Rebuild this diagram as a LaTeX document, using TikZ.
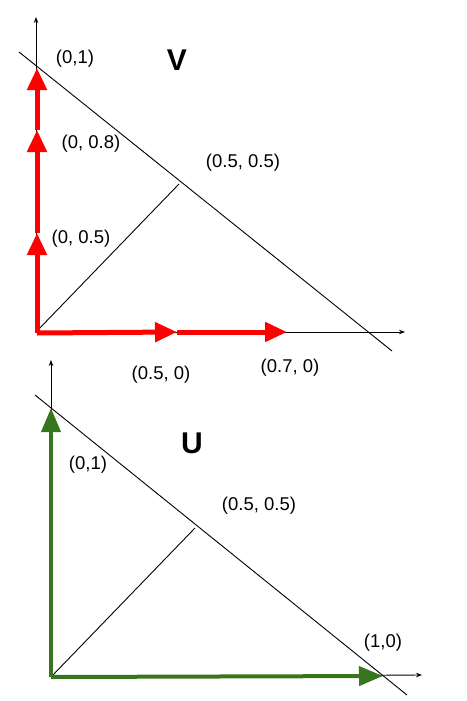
\documentclass[tikz,border=0pt]{standalone}
\usepackage{fontspec}
\setmainfont{Liberation Sans}
\usetikzlibrary{arrows.meta}
\definecolor{vred}{HTML}{FF0000}
\definecolor{ugreen}{HTML}{38761D}
\tikzset{
  axis/.style={line width=0.9pt,-{Stealth[length=6pt,width=4.5pt]}},
  thin line/.style={line width=0.9pt},
  redvec/.style={draw=vred,line width=5pt,-{Triangle[length=22pt,width=19pt]}},
  greenvec/.style={draw=ugreen,line width=4pt,-{Triangle[length=24pt,width=19pt]}},
  lbl/.style={font=\fontsize{18.5}{22}\selectfont,inner sep=0pt},
  title/.style={font=\fontsize{30}{34}\selectfont\bfseries,inner sep=0pt}
}
\begin{document}
\begin{tikzpicture}[x=1pt,y=-1pt]
\useasboundingbox (0,0) rectangle (466,701);
% ---------- V diagram ----------
\coordinate (vo) at (36,332);
\coordinate (vyt) at (36,17);
\coordinate (vxt) at (405,332);
\coordinate (vd1) at (19,52);
\coordinate (vd2) at (392,351);
\coordinate (vm) at (179,184);
\coordinate (vp05) at (37,233);
\coordinate (vp08) at (37,130);
\coordinate (vp1) at (37,68);
\coordinate (vq0) at (37,333);
\coordinate (vq05) at (177,332);
\coordinate (vq07) at (287,332);
\draw[axis] (vo) -- (vyt);
\draw[axis] (vo) -- (vxt);
\draw[thin line] (vd1) -- (vd2);
\draw[thin line] (vo) -- (vm);
\draw[redvec] (vq0) -- (vp05);
\draw[redvec] (vp05) -- (vp08);
\draw[redvec] (vp08) -- (vp1);
\draw[redvec] (vq0) -- (vq05);
\draw[redvec] (vq05) -- (vq07);
\node[lbl] (l01) at (75,59) {(0,1)};
\node[title] (tv) at (177,60) {V};
\node[lbl] (l008) at (91,144) {(0, 0.8)};
\node[lbl] (l55) at (243,163) {(0.5, 0.5)};
\node[lbl] (l005) at (81,239) {(0, 0.5)};
\node[lbl] (l50) at (161,375) {(0.5, 0)};
\node[lbl] (l70) at (290,368) {(0.7, 0)};
% ---------- U diagram ----------
\coordinate (uo) at (51,677);
\coordinate (uyt) at (51,360);
\coordinate (uxt) at (422,675);
\coordinate (ud1) at (35,395);
\coordinate (ud2) at (407,695);
\coordinate (um) at (195,528);
\coordinate (up1) at (51,408);
\coordinate (uq1) at (383,676);
\draw[axis] (uo) -- (uyt);
\draw[axis] (uo) -- (uxt);
\draw[thin line] (ud1) -- (ud2);
\draw[thin line] (uo) -- (um);
\draw[greenvec] (uo) -- (up1);
\draw[greenvec] (uo) -- (uq1);
\node[title] (tu) at (192,443) {U};
\node[lbl] (m01) at (88,465) {(0,1)};
\node[lbl] (m55) at (259,506) {(0.5, 0.5)};
\node[lbl] (m10) at (383,643) {(1,0)};
\end{tikzpicture}
\end{document}
